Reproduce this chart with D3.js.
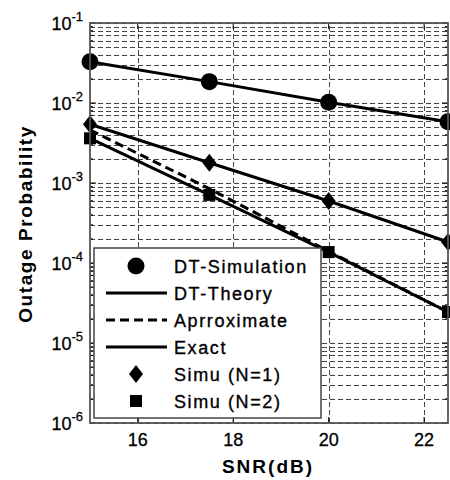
<html>
<head>
<meta charset="utf-8">
<script src="https://cdnjs.cloudflare.com/ajax/libs/d3/7.8.5/d3.min.js"></script>
<style>
  body { margin: 0; background: #fff; }
  text { font-family: Arial, "Liberation Sans", sans-serif; fill: #000; }
</style>
</head>
<body>
<div id="chart"></div>
<script>
// values
var snr      = [15, 17.5, 20, 22.5];
var dtSim    = [0.0328, 0.0185, 0.0102, 0.00583];
var dtTheory = [0.0328, 0.0185, 0.0102, 0.00583];
var approx   = [4.6e-3, 8.5e-4, 1.4e-4, 2.44e-5];
var exactN1  = [5.42e-3, 1.79e-3, 5.96e-4, 1.83e-4];
var exactN2  = [3.62e-3, 7.1e-4, 1.37e-4, 2.44e-5];
var simuN1   = [5.42e-3, 1.79e-3, 5.96e-4, 1.83e-4];
var simuN2   = [3.62e-3, 7.1e-4, 1.37e-4, 2.44e-5];
var xTicks   = [16, 18, 20, 22];
var yDecades = [-6, -5, -4, -3, -2, -1];
var legendLabels = ["DT-Simulation", "DT-Theory", "Aprroximate", "Exact", "Simu (N=1)", "Simu (N=2)"];

var W = 450, H = 480;
var x = d3.scaleLinear().domain([15, 22.5]).range([90, 448]);
var y = d3.scaleLog().domain([1e-6, 1e-1]).range([423, 23]);

var svg = d3.select("#chart").append("svg").attr("width", W).attr("height", H);

// minor / major horizontal grid values
var yGrid = [];
yDecades.forEach(function(d){
  if (d === -1) { yGrid.push(1e-1); return; }
  for (var k = 1; k <= 9; k++) yGrid.push(k * Math.pow(10, d));
});

var grid = svg.append("g").attr("shape-rendering", "crispEdges");
grid.selectAll("line.h").data(yGrid).enter().append("line")
  .attr("x1", x(15)).attr("x2", x(22.5))
  .attr("y1", function(d){ return Math.round(y(d)) + 0.5; }).attr("y2", function(d){ return Math.round(y(d)) + 0.5; })
  .attr("stroke", "#444").attr("stroke-width", 1).attr("stroke-dasharray", "5,3");
grid.selectAll("line.v").data(xTicks).enter().append("line")
  .attr("x1", function(d){ return Math.round(x(d)) + 0.5; }).attr("x2", function(d){ return Math.round(x(d)) + 0.5; })
  .attr("y1", y(1e-6)).attr("y2", y(1e-1))
  .attr("stroke", "#444").attr("stroke-width", 1).attr("stroke-dasharray", "5,3");

// ticks (inside)
var ticks = svg.append("g").attr("stroke", "#000").attr("stroke-width", 1);
yGrid.forEach(function(v){
  var major = Math.abs(Math.log10(v) - Math.round(Math.log10(v))) < 1e-9;
  var len = major ? 6 : 3;
  ticks.append("line").attr("x1", x(15)).attr("x2", x(15) + len).attr("y1", y(v)).attr("y2", y(v));
  ticks.append("line").attr("x1", x(22.5)).attr("x2", x(22.5) - len).attr("y1", y(v)).attr("y2", y(v));
});
xTicks.forEach(function(v){
  ticks.append("line").attr("x1", x(v)).attr("x2", x(v)).attr("y1", y(1e-6)).attr("y2", y(1e-6) - 6);
  ticks.append("line").attr("x1", x(v)).attr("x2", x(v)).attr("y1", y(1e-1)).attr("y2", y(1e-1) + 6);
});

// data lines
var line = d3.line().x(function(d){ return x(d[0]); }).y(function(d){ return y(d[1]); });
function pairs(vals){ return snr.map(function(s, i){ return [s, vals[i]]; }); }

var lines = svg.append("g").attr("fill", "none").attr("stroke", "#000").attr("stroke-width", 3);
lines.append("path").attr("d", line(pairs(dtTheory)));
lines.append("path").attr("d", line(pairs(exactN1)));
lines.append("path").attr("d", line(pairs(exactN2)));
lines.append("path").attr("d", line(pairs(approx))).attr("stroke-dasharray", "9,5");

// markers
var marks = svg.append("g").attr("fill", "#000");
marks.selectAll("circle").data(pairs(dtSim)).enter().append("circle")
  .attr("cx", function(d){ return x(d[0]); }).attr("cy", function(d){ return y(d[1]); }).attr("r", 8.5);
var diamond = "M0,-9L7,0L0,9L-7,0Z";
marks.selectAll("path.dia").data(pairs(simuN1)).enter().append("path")
  .attr("d", diamond)
  .attr("transform", function(d){ return "translate(" + x(d[0]) + "," + y(d[1]) + ")"; });
marks.selectAll("rect").data(pairs(simuN2)).enter().append("rect")
  .attr("x", function(d){ return x(d[0]) - 6; }).attr("y", function(d){ return y(d[1]) - 6; })
  .attr("width", 12).attr("height", 12);

// box
svg.append("rect").attr("x", x(15)).attr("y", y(1e-1))
  .attr("width", x(22.5) - x(15)).attr("height", y(1e-6) - y(1e-1))
  .attr("fill", "none").attr("stroke", "#555").attr("stroke-width", 1.8);

// tick labels
var yl = svg.append("g").attr("stroke", "#000").attr("stroke-width", 0.3);
yDecades.forEach(function(d){
  var t = yl.append("text").attr("x", 83).attr("y", y(Math.pow(10, d)) + 7)
    .attr("text-anchor", "end").attr("font-size", 18);
  t.append("tspan").text("10");
  t.append("tspan").attr("font-size", 13).attr("dy", -9).text(String(d));
});
svg.append("g").attr("stroke", "#000").attr("stroke-width", 0.3)
  .selectAll("text").data(xTicks).enter().append("text")
  .attr("x", function(d){ return x(d); }).attr("y", 446)
  .attr("text-anchor", "middle").attr("font-size", 18)
  .text(function(d){ return d; });

// axis titles
svg.append("text").attr("x", 268).attr("y", 473).attr("text-anchor", "middle")
  .attr("font-size", 19).attr("font-weight", "bold").attr("letter-spacing", 2)
  .text("SNR(dB)");
svg.append("text").attr("transform", "translate(32,224) rotate(-90)").attr("text-anchor", "middle")
  .attr("font-size", 19).attr("font-weight", "bold").attr("letter-spacing", 1.6)
  .text("Outage Probability");

// legend
var lg = svg.append("g");
lg.append("rect").attr("x", 94).attr("y", 248).attr("width", 227).attr("height", 170)
  .attr("fill", "#fff").attr("stroke", "#444").attr("stroke-width", 1.5);
legendLabels.forEach(function(lbl, i){
  var cy = 266 + i * 27;
  if (i === 0) lg.append("circle").attr("cx", 136).attr("cy", cy).attr("r", 8.5);
  if (i === 1 || i === 3) lg.append("line").attr("x1", 106).attr("x2", 167).attr("y1", cy).attr("y2", cy)
    .attr("stroke", "#000").attr("stroke-width", 3);
  if (i === 2) lg.append("line").attr("x1", 106).attr("x2", 167).attr("y1", cy).attr("y2", cy)
    .attr("stroke", "#000").attr("stroke-width", 3).attr("stroke-dasharray", "9,5");
  if (i === 4) lg.append("path").attr("d", diamond).attr("transform", "translate(136," + cy + ")");
  if (i === 5) lg.append("rect").attr("x", 130).attr("y", cy - 6).attr("width", 12).attr("height", 12);
  lg.append("text").attr("x", 174).attr("y", cy + 6.5).attr("font-size", 18)
    .attr("letter-spacing", 1.6).attr("stroke", "#000").attr("stroke-width", 0.35)
    .text(lbl);
});
</script>
</body>
</html>
